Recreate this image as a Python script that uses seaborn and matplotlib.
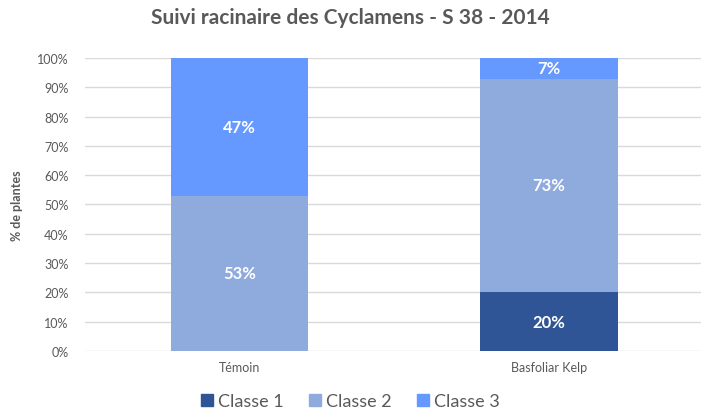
import pandas as pd
import seaborn as sns
import matplotlib.pyplot as plt
from matplotlib.patches import Patch
from matplotlib.ticker import PercentFormatter

categories = ['Témoin', 'Basfoliar Kelp']
classe_1 = [0, 20]
classe_2 = [53, 73]
classe_3 = [47, 7]
series = ['Classe 1', 'Classe 2', 'Classe 3']
colors = ['#2F5597', '#8FAADC', '#6699FF']

df = pd.DataFrame({'cat': categories, 'Classe 1': classe_1,
                   'Classe 2': classe_2, 'Classe 3': classe_3})
df['c12'] = df['Classe 1'] + df['Classe 2']
df['c123'] = df['c12'] + df['Classe 3']

sns.set_style("white")
plt.rcParams['font.family'] = ['Lato', 'DejaVu Sans']
grey = '#595959'

fig = plt.figure(figsize=(7.01, 4.14), dpi=100)
ax = fig.add_axes([0.1213, 0.1498, 0.882, 0.7077])

# stacked bars drawn as overlapping cumulative totals
for col, color in zip(['c123', 'c12', 'Classe 1'], colors[::-1]):
    sns.barplot(data=df, x='cat', y=col, color=color, width=0.445,
                saturation=1, ax=ax, zorder=2, edgecolor='none', linewidth=0)

for i in range(len(categories)):
    base = 0
    for vals in [classe_1, classe_2, classe_3]:
        v = vals[i]
        if v > 0:
            ax.text(i, base + v / 2, f'{v}%', ha='center', va='center',
                    color='white', fontsize=12, fontweight='bold')
        base += v

ax.set_ylim(0, 100)
ax.set_xlim(-0.5, 1.5)
ax.set_yticks(range(0, 101, 10))
ax.yaxis.set_major_formatter(PercentFormatter(100, decimals=0))
ax.grid(axis='y', color='#D9D9D9', linewidth=1, zorder=0)
ax.set_axisbelow(True)
sns.despine(ax=ax, left=True, bottom=True, top=True, right=True)
ax.tick_params(axis='y', length=0, labelsize=9, colors=grey, pad=12)
ax.tick_params(axis='x', length=0, labelsize=9, colors=grey, pad=7)
ax.set_xlabel('')
ax.set_ylabel('% de plantes', fontsize=9, color=grey, fontweight='bold',
              labelpad=10)
fig.suptitle('Suivi racinaire des Cyclamens - S 38 - 2014', y=0.98,
             fontsize=15, color=grey, fontweight='bold')

handles = [Patch(color=c) for c in colors]
fig.legend(handles, series, loc='lower center', bbox_to_anchor=(0.5, -0.03),
           ncol=3, frameon=False, fontsize=13, labelcolor=grey,
           handlelength=0.65, handleheight=0.65, handletextpad=0.3,
           columnspacing=1.4)

fig.savefig('out.png', dpi=100)
